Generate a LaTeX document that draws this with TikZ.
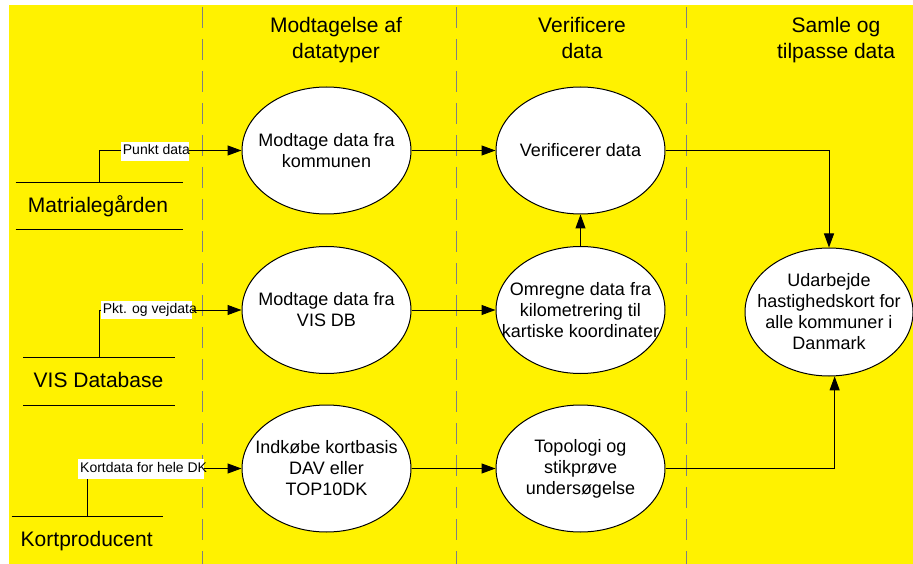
\documentclass[tikz,border=0pt]{standalone}
\usepackage{fontspec}
\setmainfont{Liberation Sans}
\usetikzlibrary{arrows.meta,shapes.geometric}
\begin{document}
\begin{tikzpicture}[x=1pt,y=-1pt,
  lane/.style={draw=gray, line width=1pt, dash pattern=on 21pt off 11pt},
  proc/.style={ellipse, draw=black, fill=white, line width=1pt,
    minimum width=169pt, minimum height=127pt, inner sep=0pt},
  ptxt/.style={inner sep=0pt, align=center, font=\fontsize{18}{21}\selectfont},
  hdr/.style={anchor=north, inner sep=0pt, align=center, font=\fontsize{21}{25.6}\selectfont},
  ext/.style={anchor=base, inner sep=0pt, font=\fontsize{21}{25}\selectfont},
  lbl/.style={anchor=base west, inner sep=0pt, font=\fontsize{14}{16}\selectfont},
  rule/.style={draw=black, line width=1pt},
  flow/.style={draw=black, line width=1pt, -{Triangle[length=14pt,width=10pt]}}]

\useasboundingbox (0,0) rectangle (913,564);

% background and swimlane separators
\fill[yellow] (9,5) rectangle (913,564);
\draw[lane] (202,7) -- (202,564);
\draw[lane] (456,7) -- (456,564);
\draw[lane] (686,7) -- (686,564);

% lane headings
\node[hdr] (h1) at (336,17.4) {Modtagelse af\\datatyper};
\node[hdr] (h2) at (582,17.4) {Verificere\\data};
\node[hdr] (h3) at (836,17.4) {Samle og\\tilpasse data};

% processes
\node[proc] (e1) at (326.5,150.5) {};
\node[ptxt] (e1t) at (e1) {Modtage data fra\\kommunen};
\node[proc] (e2) at (326.5,310) {};
\node[ptxt] (e2t) at (e2) {Modtage data fra\\VIS DB};
\node[proc] (e3) at (326.5,468.5) {};
\node[ptxt] (e3t) at (e3) {Indkøbe kortbasis\\DAV eller\\TOP10DK};
\node[proc] (e4) at (580.5,150.5) {};
\node[ptxt] (e4t) at (e4) {Verificerer data};
\node[proc] (e5) at (580.5,310) {};
\node[ptxt] (e5t) at (e5) {Omregne data fra\\kilometrering til\\kartiske koordinater};
\node[proc] (e6) at (580.5,468.5) {};
\node[ptxt] (e6t) at (e6) {Topologi og\\stikprøve\\undersøgelse};
\node[proc, minimum width=168pt, minimum height=128pt] (e7) at (829,312) {};
\node[ptxt] (e7t) at (e7) {Udarbejde\\hastighedskort for\\alle kommuner i\\Danmark};

% external entities
\node[ext] (matr) at (98,212.7) {Matrialegården};
\draw[rule] (15.7,182.7) -- (182.7,182.7);
\draw[rule] (15.7,230) -- (182.7,230);
\coordinate (matr-out) at (99.3,182.7);

\node[ext] (vis) at (98.5,387) {VIS Database};
\draw[rule] (23.3,357.3) -- (174.7,357.3);
\draw[rule] (23.3,405.3) -- (174.7,405.3);
\coordinate (vis-out) at (99.3,357.3);

\node[ext] (kort) at (86.7,546.7) {Kortproducent};
\draw[rule] (11.7,516) -- (162.7,516);
\coordinate (kort-out) at (87.3,516);

% data flows
\draw[flow] (matr-out) |- (e1.west);
\draw[flow] (vis-out) |- (e2.west);
\draw[flow] (kort-out) |- (e3.west);
\draw[flow] (e1.east) -- (e4.west);
\draw[flow] (e2.east) -- (e5.west);
\draw[flow] (e3.east) -- (e6.west);
\draw[flow] (e5.north) -- (e4.south);
\draw[flow] (e4.east) -| (e7.north);
\draw[flow] (e6.east) -| (e7.-85);

% flow labels
\fill[white] (121,142) rectangle (189,160.7);
\node[lbl] (l1) at (122.7,155) {Punkt data};
\fill[white] (101,300.7) rectangle (192,319.3);
\node[lbl] (l2) at (102.7,313.3) {Pkt. og vejdata};
\fill[white] (78.3,459) rectangle (203.7,479);
\node[lbl] (l3) at (80,472.7) {Kortdata for hele DK};

\end{tikzpicture}
\end{document}
